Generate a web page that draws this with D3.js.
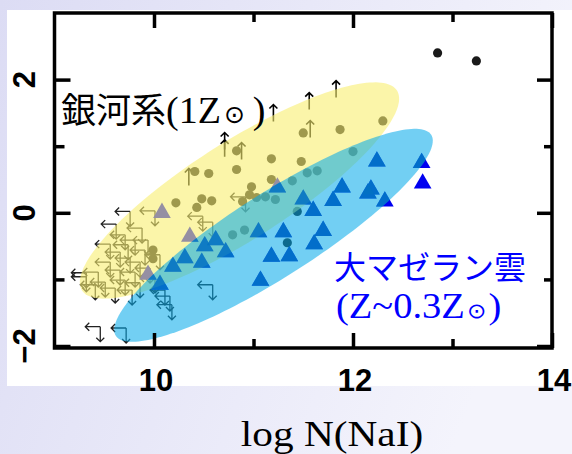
<!DOCTYPE html>
<html>
<head>
<meta charset="utf-8">
<script src="https://cdn.jsdelivr.net/npm/d3@7"></script>
<style>
body { margin: 0; }
svg { display: block; }
</style>
</head>
<body>
<svg id="chart" width="572" height="454"></svg>
<script>
// Milky Way detections (log N(NaI), y)
const mwDots = [
    [12.30, 1.38], [11.87, 1.25], [11.50, 1.20], [12.00, 0.92], [11.18, 0.81],
    [11.48, 0.77], [10.83, 0.93], [10.83, 0.65], [10.55, 0.59], [10.41, 0.62],
    [10.98, 0.39], [11.18, 0.50], [11.39, 0.48], [11.54, 0.60], [11.64, 0.63],
    [10.96, 0.27], [11.03, 0.23], [10.89, 0.17], [10.22, 0.15], [10.48, 0.21],
    [10.58, 0.18], [10.43, 0.08], [11.12, 0.24], [11.22, 0.20], [11.44, 0.02],
    [10.79, -0.33], [10.91, -0.26], [11.34, -0.45], [9.99, -0.56], [9.99, -0.69],
    [12.85, 2.40], [13.24, 2.28]
];
// Milky Way upper limits (left + down arrows)
const mwUpper = [
    [9.76, 0.02], [10.01, 0.03], [9.62, -0.17], [9.56, -0.47], [9.32, -0.90],
    [9.32, -0.96], [9.46, -1.71], [9.72, -1.73], [10.11, -1.16], [10.18, -1.38],
    [10.59, -1.08], [10.92, 0.24], [10.49, -0.05], [10.59, -0.14], [9.88, -0.23],
    [9.81, -0.41], [9.71, -0.33], [9.91, -0.56], [9.66, -0.59], [9.76, -0.68],
    [9.86, -0.74], [9.56, -0.74], [9.44, -0.89], [9.66, -0.86], [9.81, -0.89],
    [9.96, -0.83], [9.51, -1.04], [9.71, -1.01], [9.86, -1.05], [9.61, -1.13],
    [9.78, -1.16], [10.01, -0.98], [9.41, -1.08], [9.94, -0.41], [9.74, -0.48],
    [10.16, -1.25], [10.06, -0.63]
];
// Milky Way lower limits (up arrows)
const mwLower = [
    [11.20, 1.37], [11.56, 1.55], [11.83, 1.73], [11.57, 1.13],
    [10.71, 0.95], [10.71, 0.84], [10.88, 0.80], [10.35, 0.41]
];
// LMC detections
const lmcTri = [
    [10.08, 0.00], [9.94, -0.93], [10.06, -1.08], [10.36, -0.36], [10.31, -0.68],
    [10.19, -0.81], [10.48, -0.75], [10.51, -0.50], [10.62, -0.41], [10.72, -0.59],
    [11.05, -0.29], [11.07, -1.02], [11.18, -0.66], [11.36, -0.65], [11.30, -0.29],
    [11.50, 0.20], [11.60, 0.03], [11.70, -0.27], [11.61, -0.47], [11.80, 0.18],
    [11.89, 0.38], [12.18, 0.35], [12.24, 0.77], [12.15, 0.29], [12.32, 0.17],
    [12.69, 0.75], [12.70, 0.44], [11.24, 0.38]
];
// ellipses: centre, half major axis vector, half minor axis vector (data units)
const mwEllipse = [[10.859, 0.335], [1.583, 1.500], [0.262, -0.622]];
const lmcEllipse = [[11.201, -0.338], [1.585, 1.509], [0.225, -0.530]];

const xMajor = [10, 12, 14];
const xMinor = [11, 13];
const xLabels = ["10", "12", "14"];
const yMajor = [-2, 0, 2];
const yMinor = [-1, 1];
const yLabels = ["\u22122", "0", "2"];

const svg = d3.select("#chart");
const x = d3.scaleLinear().domain([9, 14]).range([54.5, 552]);
const y = d3.scaleLinear().domain([-2.03, 3.0]).range([348, 13]);

const ellipsePath = (e) => {
    const pts = d3.range(0, 2 * Math.PI, Math.PI / 90).map(t => [
        x(e[0][0] + e[1][0] * Math.cos(t) + e[2][0] * Math.sin(t)),
        y(e[0][1] + e[1][1] * Math.cos(t) + e[2][1] * Math.sin(t))
    ]);
    return d3.line().curve(d3.curveLinearClosed)(pts);
};

// background
const defs = svg.append("defs");
const grad = defs.append("linearGradient").attr("id", "bg")
    .attr("x1", "0").attr("y1", "0").attr("x2", "1").attr("y2", "0.3");
grad.append("stop").attr("offset", "0").attr("stop-color", "#dcdcf4");
grad.append("stop").attr("offset", "1").attr("stop-color", "#f4f4fc");
defs.append("clipPath").attr("id", "lmcClip")
    .append("path").attr("d", ellipsePath(lmcEllipse));
svg.append("rect").attr("width", 572).attr("height", 454).attr("fill", "url(#bg)");
svg.append("rect").attr("x", 7).attr("y", 10).attr("width", 565).attr("height", 376).attr("fill", "#fff");

const plot = svg.append("g");

// upper limits
const L = 15, H = 4;
plot.selectAll("path.upper")
    .data(mwUpper)
    .enter()
    .append("path")
    .attr("class", "upper")
    .attr("d", d => {
        const px = x(d[0]), py = y(d[1]);
        return `M${px},${py}H${px - L}m${H},${-H}l${-H},${H}l${H},${H}` +
            `M${px},${py}V${py + L}m${-H},${-H}l${H},${H}l${H},${-H}`;
    })
    .attr("fill", "none")
    .attr("stroke", "#222")
    .attr("stroke-width", 1.3);

// lower limits
plot.selectAll("path.lower")
    .data(mwLower)
    .enter()
    .append("path")
    .attr("class", "lower")
    .attr("d", d => {
        const px = x(d[0]), py = y(d[1]);
        return `M${px},${py}V${py - 17}m${-H},${H}l${H},${-H}l${H},${H}`;
    })
    .attr("fill", "none")
    .attr("stroke", "#000")
    .attr("stroke-width", 1.6);

plot.selectAll("circle")
    .data(mwDots)
    .enter()
    .append("circle")
    .attr("cx", d => x(d[0]))
    .attr("cy", d => y(d[1]))
    .attr("r", 4.6)
    .attr("fill", "#1a1a1a");

const triSymbol = d3.symbol().type(d3.symbolTriangle).size(135);
plot.selectAll("path.tri")
    .data(lmcTri)
    .enter()
    .append("path")
    .attr("class", "tri")
    .attr("transform", d => `translate(${x(d[0])},${y(d[1])})`)
    .attr("d", triSymbol)
    .attr("fill", "#0000f0");

// ellipses drawn over the points
plot.append("path").attr("d", ellipsePath(mwEllipse))
    .attr("fill", "#f8ee70").attr("fill-opacity", 0.6);
plot.append("path").attr("d", ellipsePath(lmcEllipse))
    .attr("fill", "#04aaea").attr("fill-opacity", 0.56);

// triangles seen through the blue ellipse
plot.append("g")
    .attr("clip-path", "url(#lmcClip)")
    .selectAll("path")
    .data(lmcTri)
    .enter()
    .append("path")
    .attr("transform", d => `translate(${x(d[0])},${y(d[1])})`)
    .attr("d", triSymbol)
    .attr("fill", "#0272c2")
    .attr("fill-opacity", 0.8);

// frame and ticks
const [x0, x1] = x.range();
const [y0, y1] = y.range();
svg.append("rect")
    .attr("x", x0).attr("y", y1)
    .attr("width", x1 - x0).attr("height", y0 - y1)
    .attr("fill", "none").attr("stroke", "#000").attr("stroke-width", 3.5);

const tickGroup = (axis, tr) => {
    svg.append("g")
        .attr("transform", tr)
        .call(axis.tickFormat(() => ""))
        .call(g => g.select(".domain").remove())
        .selectAll("line")
        .attr("stroke", "#000")
        .attr("stroke-width", 3.5);
};
tickGroup(d3.axisBottom(x).tickValues(xMajor).tickSize(-15), `translate(0,${y0})`);
tickGroup(d3.axisBottom(x).tickValues(xMinor).tickSize(-9), `translate(0,${y0})`);
tickGroup(d3.axisTop(x).tickValues(xMajor).tickSize(-15), `translate(0,${y1})`);
tickGroup(d3.axisTop(x).tickValues(xMinor).tickSize(-9), `translate(0,${y1})`);
tickGroup(d3.axisLeft(y).tickValues(yMajor).tickSize(-16), `translate(${x0},0)`);
tickGroup(d3.axisLeft(y).tickValues(yMinor).tickSize(-10), `translate(${x0},0)`);
tickGroup(d3.axisRight(y).tickValues(yMajor).tickSize(-15), `translate(${x1},0)`);
tickGroup(d3.axisRight(y).tickValues(yMinor).tickSize(-8), `translate(${x1},0)`);

svg.selectAll("text.xl")
    .data(xMajor)
    .enter()
    .append("text")
    .attr("class", "xl")
    .attr("x", d => x(d) + 2)
    .attr("y", 391)
    .attr("text-anchor", "middle")
    .attr("font-family", "Liberation Sans, Arial, sans-serif")
    .attr("font-weight", "bold")
    .attr("font-size", 31)
    .text((d, i) => xLabels[i]);

svg.selectAll("text.yl")
    .data(yMajor)
    .enter()
    .append("text")
    .attr("class", "yl")
    .attr("transform", d => `translate(35,${y(d)}) rotate(-90)`)
    .attr("text-anchor", "middle")
    .attr("font-family", "Liberation Sans, Arial, sans-serif")
    .attr("font-weight", "bold")
    .attr("font-size", 31)
    .text((d, i) => yLabels[i]);

svg.append("text")
    .attr("transform", "translate(332,446) scale(1.18,1)")
    .attr("text-anchor", "middle")
    .attr("font-family", "Liberation Serif, Times New Roman, serif")
    .attr("font-size", 35)
    .text("log N(NaI)");

// labels
const mwLabel = svg.append("text").attr("x", 61).attr("y", 123).attr("fill", "#000");
mwLabel.append("tspan").attr("font-family", "Noto Sans CJK JP").attr("font-size", 35).text("銀河系");
mwLabel.append("tspan").attr("font-family", "Liberation Serif").attr("font-size", 38).text("(1Z");
mwLabel.append("tspan").attr("font-family", "DejaVu Sans").attr("font-size", 25).attr("dx", 3).text("\u2299");
mwLabel.append("tspan").attr("font-family", "Liberation Serif").attr("font-size", 38).attr("dx", 8).text(")");

svg.append("text")
    .attr("x", 334).attr("y", 279)
    .attr("fill", "#0000ff")
    .attr("font-family", "Noto Sans CJK JP")
    .attr("font-size", 32)
    .text("大マゼラン雲");
const lmcLabel = svg.append("text")
    .attr("transform", "translate(336,318) scale(1.1,1)")
    .attr("fill", "#0000ff");
lmcLabel.append("tspan").attr("font-family", "Liberation Serif").attr("font-size", 35).text("(Z~0.3Z");
lmcLabel.append("tspan").attr("font-family", "DejaVu Sans").attr("font-size", 21).attr("dx", 2).text("\u2299");
lmcLabel.append("tspan").attr("font-family", "Liberation Serif").attr("font-size", 35).attr("dx", 2).text(")");
</script>
</body>
</html>
